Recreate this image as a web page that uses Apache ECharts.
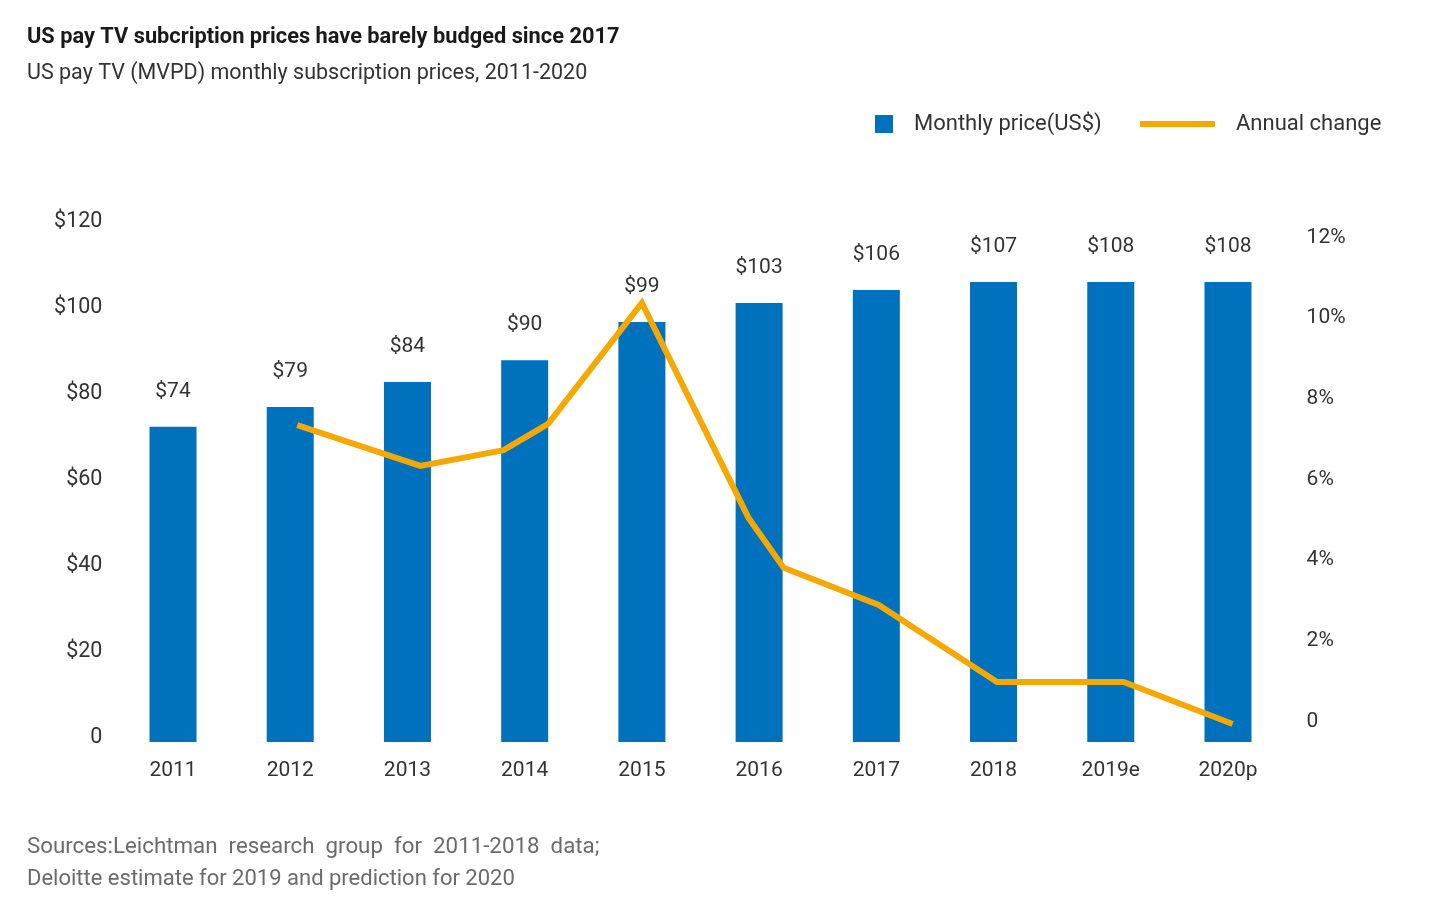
<!DOCTYPE html>
<html>
<head>
<meta charset="utf-8">
<script src="https://cdn.jsdelivr.net/npm/echarts@6/dist/echarts.min.js"></script>
<style>
html,body{margin:0;padding:0;background:#fff;}
#chart{width:1450px;height:908px;}
</style>
</head>
<body>
<div id="chart"></div>
<script>
// ---- data ----
var categories = ['2011','2012','2013','2014','2015','2016','2017','2018','2019e','2020p'];
var priceValues = [73.3, 77.9, 83.7, 88.8, 97.7, 102.1, 105.1, 107, 107, 107];
var priceLabels = ['$74','$79','$84','$90','$99','$103','$106','$107','$108','$108'];
// annual change line: position along the category scale (index) and value in %
var changeX = [1.06, 2.11, 2.82, 3.20, 4.00, 4.91, 5.21, 6.02, 7.03, 8.11, 9.04];
var changeY = [7.46, 6.45, 6.84, 7.49, 10.49, 5.16, 3.92, 3.00, 1.09, 1.09, 0.05];
var leftTicks = [0, 20, 40, 60, 80, 100, 120];
var rightTicks = [0, 2, 4, 6, 8, 10, 12];

var FONT = 'Roboto';
var lineData = changeX.map(function (x, i) { return [x, changeY[i]]; });

var chart = echarts.init(document.getElementById('chart'), null, {renderer: 'canvas'});
var option = {
  animation: false,
  backgroundColor: '#ffffff',
  textStyle: {fontFamily: FONT},
  title: [
    {text: 'US pay TV subcription prices have barely budged since 2017', left: 27, top: 27, padding: 0,
     textStyle: {fontFamily: FONT, fontSize: 21.8, fontWeight: 'bold', color: '#1a1a1a'}},
    {text: 'US pay TV (MVPD) monthly subscription prices, 2011-2020', left: 27, top: 63, padding: 0,
     textStyle: {fontFamily: FONT, fontSize: 21.5, fontWeight: 'normal', color: '#333333'}},
    {text: 'Sources:Leichtman  research  group  for  2011-2018  data;', left: 27, top: 836, padding: 0,
     textStyle: {fontFamily: FONT, fontSize: 22.3, fontWeight: 'normal', color: '#6b6b6b'}},
    {text: 'Deloitte estimate for 2019 and prediction for 2020', left: 27, top: 868, padding: 0,
     textStyle: {fontFamily: FONT, fontSize: 22, fontWeight: 'normal', color: '#6b6b6b'}}
  ],
  legend: [
    {data: [{name: 'Monthly price(US$)', icon: 'rect'}], left: 875, top: 113, padding: 0, itemWidth: 18, itemHeight: 18,
     textStyle: {fontFamily: FONT, fontSize: 22, color: '#333333', padding: [0, 0, 0, 16]}},
    {data: [{name: 'Annual change', icon: 'rect'}], left: 1140, top: 113, padding: 0, itemWidth: 75, itemHeight: 6,
     textStyle: {fontFamily: FONT, fontSize: 22, color: '#333333', padding: [0, 0, 0, 16]}}
  ],
  grid: [
    {left: 114.4, right: 163.4, top: 226, bottom: 166, containLabel: false, outerBoundsMode: 'none'},
    {left: 114.4, right: 163.4, top: 242, bottom: 182, containLabel: false, outerBoundsMode: 'none'}
  ],
  xAxis: [
    {type: 'category', gridIndex: 0, data: categories, boundaryGap: true,
     axisLine: {show: false}, axisTick: {show: false}, splitLine: {show: false},
     axisLabel: {fontFamily: FONT, fontSize: 21, color: '#333333', margin: 18}},
    {type: 'value', gridIndex: 1, min: -0.5, max: 9.5, show: false}
  ],
  yAxis: [
    {type: 'value', gridIndex: 0, position: 'left', min: 0, max: 120, interval: 20,
     axisLine: {show: false}, axisTick: {show: false}, splitLine: {show: false},
     axisLabel: {fontFamily: FONT, fontSize: 21.5, color: '#333333', margin: 12,
       verticalAlign: 'bottom', lineHeight: 8,
       formatter: function (v) { return v === 0 ? '0' : '$' + v; }}},
    {type: 'value', gridIndex: 1, position: 'right', min: 0, max: 12, interval: 2,
     axisLine: {show: false}, axisTick: {show: false}, splitLine: {show: false},
     axisLabel: {fontFamily: FONT, fontSize: 21, color: '#333333', margin: 20,
       verticalAlign: 'bottom', lineHeight: 9,
       formatter: function (v) { return v === 0 ? '0' : v + '%'; }}}
  ],
  series: [
    {name: 'Monthly price(US$)', type: 'bar', xAxisIndex: 0, yAxisIndex: 0, data: priceValues,
     barWidth: 47, itemStyle: {color: '#0071bc'},
     label: {show: true, position: 'top', distance: 25, fontFamily: FONT, fontSize: 21, color: '#333333',
       formatter: function (p) { return priceLabels[p.dataIndex]; }}},
    {name: 'Annual change', type: 'line', xAxisIndex: 1, yAxisIndex: 1, data: lineData,
     showSymbol: false, symbol: 'none', itemStyle: {color: '#f5a800'},
     lineStyle: {color: '#f5a800', width: 6, join: 'miter', cap: 'butt'}, z: 5}
  ]
};
chart.setOption(option);
</script>
</body>
</html>
